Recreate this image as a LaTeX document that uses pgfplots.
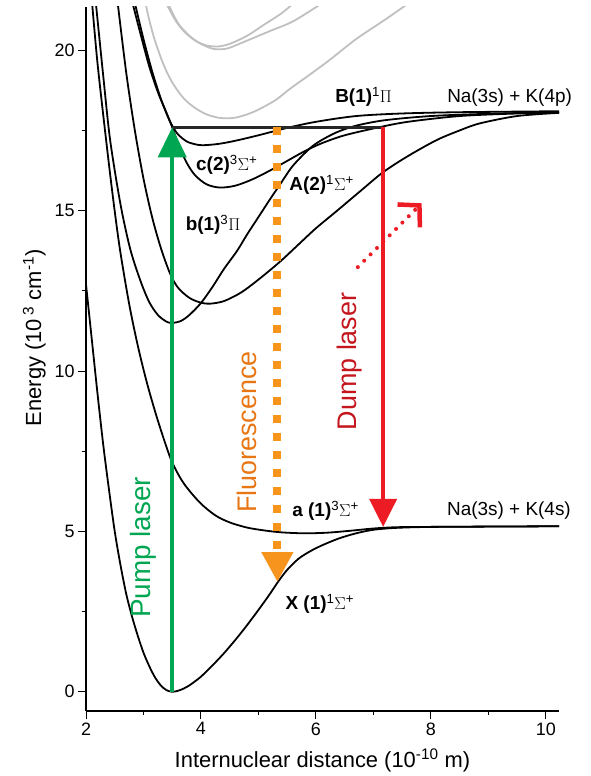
\documentclass[border=0pt]{standalone}
\usepackage{pgfplots}
\pgfplotsset{compat=1.18}
\usepackage{fontspec}
\setmainfont{Liberation Sans}
\usetikzlibrary{arrows.meta}
\definecolor{pumpgreen}{RGB}{0,166,81}
\definecolor{fluoorange}{RGB}{247,148,30}
\definecolor{fluotext}{RGB}{232,118,20}
\definecolor{dumpred}{RGB}{237,28,36}
\definecolor{dumptext}{RGB}{196,22,28}
\definecolor{grayc}{RGB}{192,192,192}
\begin{document}
\begin{tikzpicture}
\begin{axis}[name=ax, scale only axis, width=473bp, height=704bp,
 xmin=2, xmax=10.23, ymin=-0.6, ymax=21.35,
 axis x line*=bottom, axis y line*=left,
 xtick={2,4,6,8,10}, minor xtick={3,5,7,9},
 ytick={0,5,10,15,20}, minor ytick={2.5,7.5,12.5,17.5},
 tick align=outside, major tick length=8bp, minor tick length=4bp,
 tick style={black, line width=1bp},
 axis line style={line width=1.2bp},
 ticklabel style={font=\fontsize{18}{18}\selectfont},
 /pgf/number format/assume math mode=true,
 xlabel={Internuclear distance (10\textsuperscript{-10} m)},
 ylabel={Energy (10\,\textsuperscript{3} cm\textsuperscript{-1})},
 label style={font=\fontsize{22}{22}\selectfont},
 xlabel style={yshift=-7bp},
 ylabel style={at={(ticklabel cs:0.53)}, yshift=2bp},
 clip mode=individual,
 every axis plot/.append style={line width=1.8bp, smooth, tension=0.5},
]
% gray upper states
\addplot[grayc] coordinates {(3.02,21.6)(3.1,20.95)(3.2,20.3)(3.35,19.55)(3.5,19.0)(3.7,18.5)(3.9,18.2)(4.1,18.0)(4.3,17.9)(4.45,17.88)(4.6,17.9)(4.8,18.0)(5.0,18.15)(5.3,18.45)(5.55,18.8)(5.9,19.25)(6.24,19.7)(6.7,20.35)(7.2,20.95)(7.6,21.45)};
\addplot[grayc] coordinates {(3.40,21.45)(3.55,20.95)(3.7,20.6)(3.9,20.3)(4.1,20.15)(4.3,20.12)(4.5,20.2)(4.8,20.45)(5.1,20.8)(5.4,21.15)(5.6,21.45)};
\addplot[grayc] coordinates {(3.43,21.45)(3.6,20.85)(3.8,20.45)(4.0,20.2)(4.2,20.05)(4.35,20.03)(4.5,20.08)(4.8,20.3)(5.2,20.6)(5.6,20.9)(6.05,21.4)};
% X state
\addplot[black] coordinates {(2.0,12.7)(2.1,11.0)(2.2,9.3)(2.3,7.7)(2.4,6.3)(2.5,5.0)(2.6,3.95)(2.7,3.05)(2.8,2.35)(2.9,1.75)(3.0,1.22)(3.1,0.8)(3.2,0.45)(3.3,0.2)(3.4,0.05)(3.5,0.0)(3.6,0.03)(3.7,0.1)(3.8,0.2)(3.9,0.33)(4.0,0.47)(4.2,0.82)(4.4,1.2)(4.6,1.62)(4.8,2.07)(5.0,2.55)(5.2,3.05)(5.35,3.45)(5.5,3.8)(5.7,4.15)(5.9,4.38)(6.1,4.56)(6.4,4.78)(6.7,4.94)(7.0,5.05)(7.4,5.11)(8.0,5.14)(9.0,5.15)(10.23,5.16)};
% a state
\addplot[black] coordinates {(2.1,21.6)(2.2,19.6)(2.35,17.2)(2.47,15.4)(2.59,13.8)(2.75,12.1)(2.9,10.8)(3.05,9.7)(3.2,8.75)(3.35,7.9)(3.5,7.15)(3.7,6.5)(3.98,5.9)(4.25,5.5)(4.5,5.28)(4.8,5.12)(5.1,5.03)(5.4,4.97)(5.8,4.94)(6.2,4.96)(6.6,5.02)(7.0,5.09)(7.4,5.13)(8.0,5.14)(9.0,5.15)(10.23,5.16)};
% b state
\addplot[black] coordinates {(2.17,21.5)(2.3,19.2)(2.42,17.2)(2.6,15.2)(2.77,13.8)(2.95,12.8)(3.1,12.15)(3.25,11.75)(3.4,11.54)(3.5,11.5)(3.65,11.56)(3.8,11.75)(4.0,12.12)(4.2,12.62)(4.4,13.18)(4.63,13.75)(4.8,14.25)(5.0,14.8)(5.2,15.35)(5.37,15.8)(5.6,16.4)(5.9,16.95)(6.1,17.2)(6.37,17.45)(6.7,17.65)(7.2,17.82)(8.0,17.95)(9.0,18.02)(10.23,18.07)};
% A state
\addplot[black] coordinates {(2.55,21.5)(2.7,19.3)(2.85,17.5)(3.0,16.0)(3.15,14.8)(3.3,13.85)(3.46,13.05)(3.6,12.6)(3.8,12.28)(4.0,12.13)(4.16,12.1)(4.4,12.18)(4.7,12.45)(5.0,12.85)(5.37,13.4)(5.7,13.95)(6.0,14.45)(6.37,15.0)(6.8,15.65)(7.17,16.2)(7.6,16.7)(8.1,17.2)(8.5,17.5)(8.85,17.72)(9.5,17.95)(10.23,18.05)};
% c state
\addplot[black] coordinates {(2.82,21.4)(2.95,20.5)(3.1,19.5)(3.25,18.7)(3.4,18.05)(3.5,17.6)(3.6,17.1)(3.75,16.5)(3.9,16.1)(4.1,15.82)(4.33,15.72)(4.6,15.78)(4.9,15.98)(5.2,16.25)(5.5,16.55)(5.8,16.85)(6.1,17.1)(6.5,17.35)(7.1,17.6)(7.6,17.77)(8.5,17.95)(9.5,18.03)(10.23,18.06)};
% B state
\addplot[black] coordinates {(2.86,21.4)(3.0,20.35)(3.15,19.35)(3.3,18.5)(3.42,17.95)(3.5,17.65)(3.6,17.38)(3.75,17.16)(3.9,17.07)(4.03,17.04)(4.3,17.08)(4.6,17.18)(5.0,17.35)(5.5,17.58)(6.0,17.77)(6.7,17.95)(7.5,18.03)(8.5,18.07)(10.23,18.1)};
% horizontal level
\addplot[black!85, line width=3bp, sharp plot] coordinates {(3.5,17.6)(7.17,17.6)};
% fluorescence
\addplot[fluoorange, line width=8bp, sharp plot, dash pattern=on 8bp off 10bp, -{Triangle[length=30bp,width=30bp]}] coordinates {(5.33,17.6)(5.33,3.42)};
% pump
\addplot[pumpgreen, line width=4bp, sharp plot, -{Triangle[length=30bp,width=28bp]}] coordinates {(3.5,0)(3.5,17.6)};
% dump
\addplot[dumpred, line width=4bp, sharp plot, -{Triangle[length=28bp,width=27bp]}] coordinates {(7.17,17.6)(7.17,5.14)};
% dotted red arrow
\addplot[dumpred, line width=4bp, sharp plot, line cap=round, dash pattern=on 0bp off 9bp] coordinates {(6.73,13.24)(7.78,15.12)};
\addplot[dumpred, line width=4.5bp, sharp plot, -{Straight Barb[length=15bp,width=32bp,line width=4.5bp]}] coordinates {(7.80,15.16)(7.84,15.23)};
% labels
\node[font=\fontsize{19}{19}\selectfont] at (axis cs:6.83,18.54) {\textbf{B(1)}\textsuperscript{1}$\Pi$};
\node[font=\fontsize{19}{19}\selectfont] at (axis cs:9.37,18.54) {Na(3s) + K(4p)};
\node[font=\fontsize{19}{19}\selectfont] at (axis cs:4.45,16.42) {\textbf{c(2)}\textsuperscript{3}$\Sigma$\textsuperscript{+}};
\node[font=\fontsize{19}{19}\selectfont] at (axis cs:6.1,15.8) {\textbf{A(2)}\textsuperscript{1}$\Sigma$\textsuperscript{+}};
\node[font=\fontsize{19}{19}\selectfont] at (axis cs:4.21,14.55) {\textbf{b(1)}\textsuperscript{3}$\Pi$};
\node[font=\fontsize{19}{19}\selectfont] at (axis cs:6.17,5.64) {\textbf{a (1)}\textsuperscript{3}$\Sigma$\textsuperscript{+}};
\node[font=\fontsize{19}{19}\selectfont] at (axis cs:9.36,5.64) {Na(3s) + K(4s)};
\node[font=\fontsize{19}{19}\selectfont] at (axis cs:6.07,2.74) {\textbf{X (1)}\textsuperscript{1}$\Sigma$\textsuperscript{+}};
\node[rotate=90, text=pumpgreen, font=\fontsize{28}{28}\selectfont] at (axis cs:2.99,4.5) {Pump laser};
\node[rotate=90, text=fluotext, font=\fontsize{27}{27}\selectfont] at (axis cs:4.8,8.1) {Fluorescence};
\node[rotate=90, text=dumptext, font=\fontsize{27}{27}\selectfont] at (axis cs:6.59,10.3) {Dump laser};
\end{axis}
\pgfresetboundingbox
\path[use as bounding box] ([shift={(-86bp,-65bp)}]ax.south west) rectangle ([shift={(31bp,7bp)}]ax.north east);
\end{tikzpicture}
\end{document}
